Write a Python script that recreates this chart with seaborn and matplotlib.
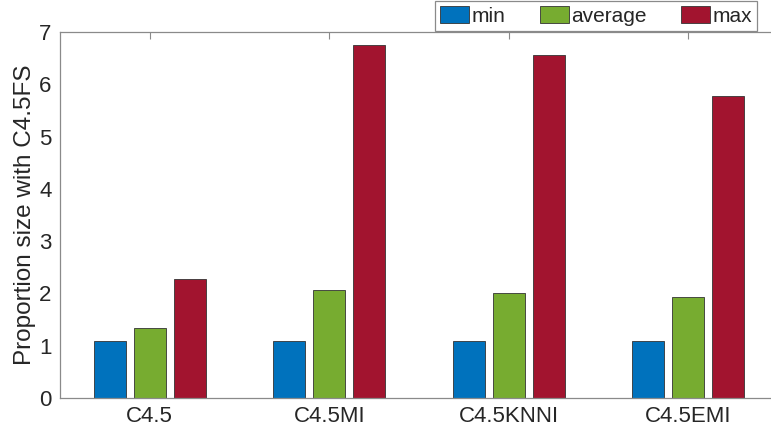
import matplotlib
matplotlib.use("Agg")
import matplotlib.pyplot as plt
import seaborn as sns
import pandas as pd

categories = ["C4.5", "C4.5MI", "C4.5KNNI", "C4.5EMI"]
series_names = ["min", "average", "max"]
min_vals = [1.09, 1.09, 1.09, 1.09]
avg_vals = [1.34, 2.07, 2.01, 1.94]
max_vals = [2.28, 6.75, 6.56, 5.78]
colors = ["#0072BD", "#77AC30", "#A2142F"]
y_ticks = [0, 1, 2, 3, 4, 5, 6, 7]

rows = []
for name, vals in zip(series_names, [min_vals, avg_vals, max_vals]):
    for c, v in zip(categories, vals):
        rows.append({"method": c, "stat": name, "value": v})
df = pd.DataFrame(rows)

sns.set_theme(style="white")
plt.rcParams["font.family"] = ["Liberation Sans", "DejaVu Sans"]

fig = plt.figure(figsize=(7.71, 4.30), dpi=100)
ax = fig.add_axes([60 / 771, 1 - 398 / 430, 718 / 771, 366 / 430])

sns.barplot(data=df, x="method", y="value", hue="stat", order=categories,
            hue_order=series_names, palette=colors, width=0.666, gap=0.2,
            saturation=1, edgecolor="#333333", linewidth=0.6, ax=ax,
            legend=True)

ax.set_xlim(-0.5, 3.5)
ax.set_ylim(0, 7)
ax.set_yticks(y_ticks)
ax.set_xlabel("")
ax.set_ylabel("Proportion size with C4.5FS", fontsize=17.5, color="#262626", labelpad=2)

spine_col = "#8a8a8a"
for name, s in ax.spines.items():
    s.set_visible(name != "right")
    s.set_color(spine_col)
    s.set_linewidth(0.9)

ax.tick_params(axis="both", direction="in", length=5, width=0.8, color=spine_col,
               top=True, right=True, labelsize=16, labelcolor="#262626")
ax.tick_params(axis="x", pad=6)
ax.tick_params(axis="y", pad=6)

handles, labels = ax.get_legend_handles_labels()
ax.legend(handles, labels, loc="lower left",
          bbox_to_anchor=(435 / 771, 1 - 31 / 430), bbox_transform=fig.transFigure,
          ncol=3, frameon=True, fancybox=False, edgecolor="#8a8a8a",
          fontsize=15, handlelength=1.4, handleheight=0.85, handletextpad=0.1,
          columnspacing=1.65, borderpad=0.25, borderaxespad=0, framealpha=1)
ax.get_legend().get_frame().set_linewidth(0.9)

fig.savefig("out.png", dpi=100)
